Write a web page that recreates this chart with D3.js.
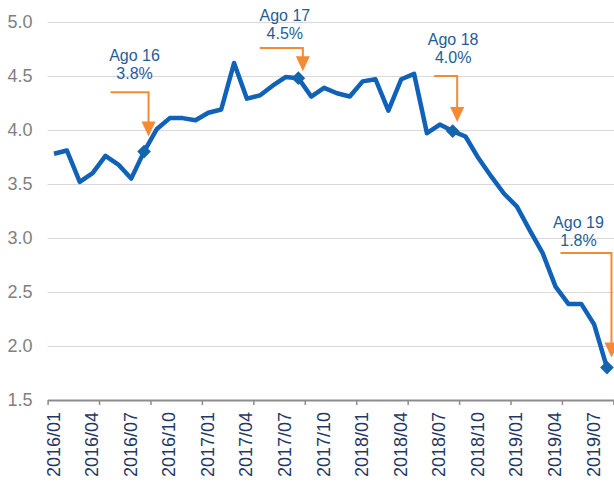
<!DOCTYPE html>
<html>
<head>
<meta charset="utf-8">
<script src="https://cdn.jsdelivr.net/npm/d3@7"></script>
<style>
  body { margin: 0; background: #ffffff; }
  svg { display: block; font-family: "Liberation Sans", Arial, sans-serif; }
</style>
</head>
<body>
<script>

// ----- Data -----
const months = [
    "2016/01","2016/02","2016/03","2016/04","2016/05","2016/06","2016/07","2016/08","2016/09","2016/10","2016/11","2016/12",
    "2017/01","2017/02","2017/03","2017/04","2017/05","2017/06","2017/07","2017/08","2017/09","2017/10","2017/11","2017/12",
    "2018/01","2018/02","2018/03","2018/04","2018/05","2018/06","2018/07","2018/08","2018/09","2018/10","2018/11","2018/12",
    "2019/01","2019/02","2019/03","2019/04","2019/05","2019/06","2019/07","2019/08"
];

const rates = [
    3.78, 3.81, 3.52, 3.60, 3.76, 3.68, 3.55, 3.80, 4.01, 4.11, 4.11, 4.09,
    4.16, 4.19, 4.62, 4.29, 4.32, 4.41, 4.49, 4.48, 4.31, 4.39, 4.34, 4.31,
    4.45, 4.47, 4.18, 4.47, 4.52, 3.97, 4.05, 3.99, 3.94, 3.74, 3.57, 3.41,
    3.29, 3.07, 2.86, 2.55, 2.39, 2.39, 2.20, 1.80
];

const xTickLabels = [
    "2016/01","2016/04","2016/07","2016/10","2017/01","2017/04","2017/07","2017/10",
    "2018/01","2018/04","2018/07","2018/10","2019/01","2019/04","2019/07"
];

const yTicks = [1.5, 2.0, 2.5, 3.0, 3.5, 4.0, 4.5, 5.0];

// highlighted months (August of every year)
const markMonths = ["2016/08", "2017/08", "2018/08", "2019/08"];
const markTitles = ["Ago 16", "Ago 17", "Ago 18", "Ago 19"];
const markValues = ["3.8%", "4.5%", "4.0%", "1.8%"];

// ----- Setup -----
const width = 614, height = 482;
const plotLeft = 47.6, plotRight = 613.4, plotTop = 22, plotBottom = 400;

const lineBlue = "#0f62b8";
const textBlue = "#1f5d99";
const orange = "#f58a34";

const svg = d3.select("body")
    .append("svg")
    .attr("width", width)
    .attr("height", height);

const x = d3.scaleBand()
    .domain(months)
    .range([plotLeft, plotRight])
    .padding(0);

// index scale for the tick marks between categories
const xIdx = d3.scaleLinear()
    .domain([0, months.length])
    .range([plotLeft, plotRight]);

const y = d3.scaleLinear()
    .domain([1.5, 5])
    .range([plotBottom, plotTop]);

const cx = m => x(m) + x.bandwidth() / 2;

// ----- Gridlines -----
svg.append("g")
    .selectAll("line")
    .data(yTicks.filter(d => d > 1.5))
    .enter()
    .append("line")
    .attr("x1", plotLeft)
    .attr("x2", width)
    .attr("y1", d => Math.round(y(d)) + 0.5)
    .attr("y2", d => Math.round(y(d)) + 0.5)
    .attr("stroke", "#d9d9d9")
    .attr("stroke-width", 1.2);

// ----- Y axis labels -----
const yAxis = svg.append("g")
    .attr("transform", "translate(" + plotLeft + ",0)")
    .call(d3.axisLeft(y).tickValues(yTicks).tickFormat(d3.format(".1f")).tickSize(0).tickPadding(15));
yAxis.select(".domain").remove();
yAxis.selectAll("text")
    .attr("fill", "#7f7f7f")
    .style("font-size", "18px");

// ----- X axis: tick marks every 4 months, labels every 3 -----
const xTicks = svg.append("g")
    .attr("transform", "translate(0," + plotBottom + ")")
    .call(d3.axisBottom(xIdx).tickValues(d3.range(0, months.length + 1, 4)).tickFormat("").tickSize(5).tickSizeOuter(0));
xTicks.select(".domain").attr("stroke", "#8c8c8c").attr("stroke-width", 2);
xTicks.selectAll(".tick line").attr("stroke", "#8c8c8c").attr("stroke-width", 1.5);

const xLabels = svg.append("g")
    .attr("transform", "translate(0," + plotBottom + ")")
    .call(d3.axisBottom(x).tickValues(xTickLabels).tickSize(0));
xLabels.select(".domain").remove();
xLabels.selectAll("text")
    .attr("transform", "rotate(-90)")
    .attr("text-anchor", "end")
    .attr("x", -12)
    .attr("y", -1)
    .attr("dy", "0.36em")
    .attr("fill", "#1f3864")
    .style("font-size", "18px");

// ----- Line -----
const line = d3.line()
    .x((d, i) => cx(months[i]))
    .y(d => y(d));

svg.append("path")
    .datum(rates)
    .attr("fill", "none")
    .attr("stroke", lineBlue)
    .attr("stroke-width", 4.5)
    .attr("stroke-linejoin", "round")
    .attr("d", line);

// ----- Annotations -----
// layout per mark: elbow level (value), start of horizontal (px from arrow), gap above point, text shift
const annoLayout = [
    { elbow: 4.35, dx0: -38, gap: 15, tdx: -14, tdy: -31 },
    { elbow: 4.76, dx0: -43, gap: 7,  tdx: -18, tdy: -27 },
    { elbow: 4.50, dx0: -23, gap: 9,  tdx: -4,  tdy: -31 },
    { elbow: 2.86, dx0: -51, gap: 10, tdx: -33, tdy: -25 }
];

markMonths.forEach((m, i) => {
    const lay = annoLayout[i];
    const px = cx(m);
    const py = y(rates[months.indexOf(m)]);
    const ax = px + 4.5;
    const ey = y(lay.elbow);
    const tip = py - lay.gap;
    const g = svg.append("g");

    g.append("path")
        .attr("d", "M" + (ax + lay.dx0) + "," + ey + "H" + ax + "V" + (tip - 13))
        .attr("fill", "none")
        .attr("stroke", orange)
        .attr("stroke-width", 2);

    g.append("path")
        .attr("d", "M" + (ax - 7) + "," + (tip - 15) + "L" + (ax + 7) + "," + (tip - 15) + "L" + ax + "," + tip + "Z")
        .attr("fill", orange);

    // diamond marker
    g.append("path")
        .attr("d", d3.symbol().type(d3.symbolDiamond2).size(120))
        .attr("transform", "translate(" + px + "," + py + ")")
        .attr("fill", "#1565ad");

    const t = g.append("text")
        .attr("text-anchor", "middle")
        .attr("fill", textBlue)
        .style("font-size", "16px");
    t.append("tspan")
        .attr("x", ax + lay.tdx)
        .attr("y", ey + lay.tdy)
        .text(markTitles[i]);
    t.append("tspan")
        .attr("x", ax + lay.tdx)
        .attr("y", ey + lay.tdy + 18)
        .text(markValues[i]);
});

</script>
</body>
</html>
